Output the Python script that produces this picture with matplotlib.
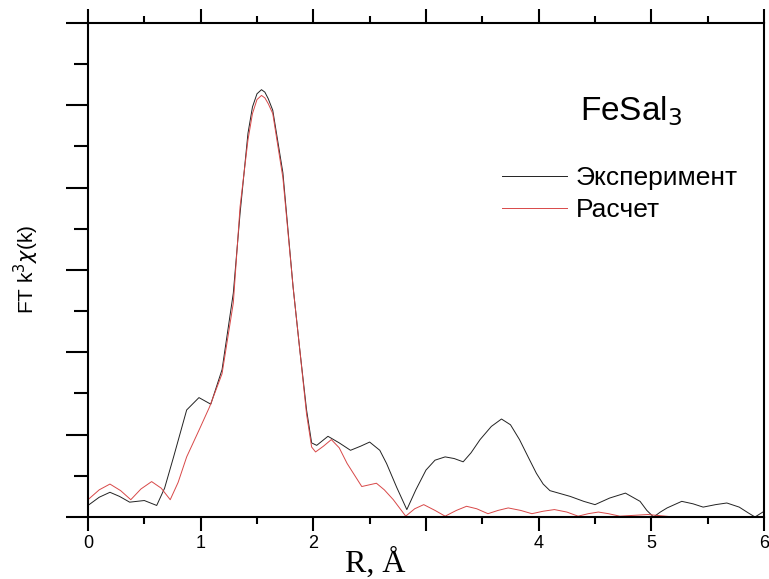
import matplotlib
matplotlib.use("Agg")
import matplotlib.pyplot as plt
from matplotlib.ticker import MultipleLocator

# experiment (black)
r_exp = [0.0, 0.1, 0.195, 0.28, 0.37, 0.5, 0.61, 0.68, 0.76, 0.876, 0.985, 1.09, 1.19,
         1.29, 1.35, 1.42, 1.46, 1.50, 1.54, 1.57, 1.60, 1.64, 1.73, 1.82, 1.88, 1.94,
         1.985, 2.03, 2.13, 2.23, 2.33, 2.42, 2.50, 2.59, 2.65, 2.74, 2.83, 2.91, 3.0,
         3.08, 3.17, 3.25, 3.33, 3.40, 3.48, 3.58, 3.67, 3.75, 3.83, 3.91, 3.98, 4.04,
         4.10, 4.28, 4.40, 4.50, 4.63, 4.77, 4.90, 4.96, 5.02, 5.08, 5.14, 5.27, 5.37,
         5.46, 5.57, 5.67, 5.78, 5.86, 5.92, 5.99]
ft_exp = [0.14, 0.24, 0.30, 0.25, 0.18, 0.20, 0.14, 0.35, 0.73, 1.30, 1.45, 1.37, 1.79,
          2.72, 3.69, 4.66, 4.98, 5.14, 5.19, 5.16, 5.08, 4.94, 4.18, 2.80, 2.03, 1.30,
          0.90, 0.87, 0.98, 0.90, 0.81, 0.86, 0.91, 0.81, 0.65, 0.36, 0.09, 0.33, 0.57,
          0.69, 0.73, 0.71, 0.67, 0.78, 0.94, 1.10, 1.19, 1.12, 0.94, 0.72, 0.53, 0.40,
          0.32, 0.25, 0.19, 0.15, 0.23, 0.29, 0.19, 0.08, 0.0, 0.06, 0.11, 0.19, 0.16,
          0.12, 0.15, 0.17, 0.12, 0.05, 0.0, 0.06]

# fit (red)
r_fit = [0.0, 0.1, 0.195, 0.29, 0.38, 0.47, 0.565, 0.65, 0.73, 0.80, 0.876, 0.994, 1.08,
         1.19, 1.29, 1.35, 1.42, 1.46, 1.50, 1.54, 1.57, 1.60, 1.64, 1.73, 1.82, 1.88,
         1.94, 1.985, 2.02, 2.09, 2.16, 2.23, 2.30, 2.43, 2.56, 2.63, 2.71, 2.82, 2.90,
         2.98, 3.08, 3.17, 3.27, 3.36, 3.45, 3.55, 3.64, 3.73, 3.84, 3.94, 4.04, 4.14,
         4.25, 4.35, 4.44, 4.53, 4.62, 4.72, 4.97, 5.2, 5.6, 6.0]
ft_fit = [0.21, 0.33, 0.40, 0.32, 0.21, 0.34, 0.43, 0.35, 0.21, 0.42, 0.73, 1.08, 1.34,
          1.74, 2.60, 3.77, 4.58, 4.90, 5.07, 5.12, 5.09, 5.02, 4.90, 4.12, 2.80, 2.03,
          1.25, 0.85, 0.79, 0.86, 0.94, 0.84, 0.65, 0.37, 0.41, 0.33, 0.21, 0.01, 0.10,
          0.15, 0.08, 0.01, 0.08, 0.13, 0.10, 0.04, 0.08, 0.11, 0.08, 0.04, 0.07, 0.09,
          0.06, 0.01, 0.04, 0.06, 0.04, 0.01, 0.03, 0.0, 0.0, 0.0]

x_ticks = [0, 1, 2, 3, 4, 5, 6]
x_tick_labels = ["0", "1", "2", "", "4", "5", "6"]

fig = plt.figure(figsize=(7.69, 5.79), dpi=100)
ax = fig.add_axes([0.1144, 0.1071, 0.8791, 0.8532])

ax.plot(r_exp, ft_exp, color="#222222", lw=0.7, label="Эксперимент")
ax.plot(r_fit, ft_fit, color="#d84848", lw=0.7, label="Расчет")

ax.set_xlim(0, 6)
ax.set_ylim(0, 6)
ax.set_xticks(x_ticks)
ax.set_xticklabels(x_tick_labels, family="Liberation Sans", fontsize=13)
ax.xaxis.set_minor_locator(MultipleLocator(0.5))
ax.yaxis.set_major_locator(MultipleLocator(1))
ax.yaxis.set_minor_locator(MultipleLocator(0.5))
ax.set_yticklabels([])

for s in ax.spines.values():
    s.set_linewidth(1.5)
ax.tick_params(which="both", direction="out", width=1.5, top=True, right=False)
ax.tick_params(axis="x", which="major", length=10, pad=3)
ax.tick_params(axis="x", which="minor", length=5)
ax.tick_params(axis="y", which="major", length=16)
ax.tick_params(axis="y", which="minor", length=10)

fig.text(0.034, 0.534, r"FT k$^3$$\chi$(k)", family="Liberation Sans", fontsize=15,
         rotation=90, ha="center", va="center")
fig.text(0.488, 0.0, "R, Å", family="Liberation Serif", fontsize=23,
         ha="center", va="bottom")

ax.text(0.728, 0.804, "FeSal$_3$", transform=ax.transAxes, family="Liberation Sans",
        fontsize=24, ha="left", va="baseline")

leg = fig.legend(loc="upper left", bbox_to_anchor=(502 / 769, 1 - 166 / 579),
                 frameon=False, prop={"family": "Liberation Sans", "size": 19},
                 handlelength=2.45, handletextpad=0.35, labelspacing=0.3,
                 borderaxespad=0, borderpad=0)

fig.savefig("out.png", dpi=100)
